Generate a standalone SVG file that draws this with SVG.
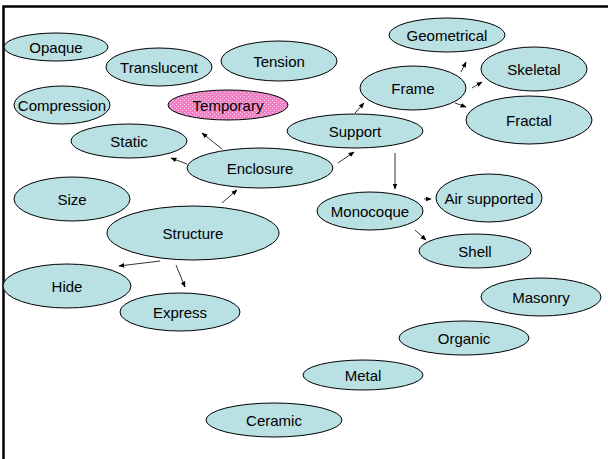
<svg xmlns="http://www.w3.org/2000/svg" width="608" height="459" viewBox="0 0 608 459">
<style>
.n ellipse{fill:#B9E0E3;stroke:#000;stroke-width:1}
.n text{font-family:"Liberation Sans",Arial,sans-serif;font-size:15px;fill:#000;text-anchor:middle;dominant-baseline:central}
.c line{stroke:#000;stroke-width:0.8;marker-end:url(#ah)}
</style>
<defs>
<marker id="ah" viewBox="0 0 10 10" refX="9" refY="5" markerWidth="6" markerHeight="6" markerUnits="userSpaceOnUse" orient="auto">
<path d="M0,1 L10,5 L0,9 Z" fill="#000"/>
</marker>
<pattern id="pk" width="4" height="4" patternUnits="userSpaceOnUse">
<rect width="4" height="4" fill="#F27FC6"/>
<rect x="0" y="0" width="1" height="1" fill="#FBD0EA"/>
<rect x="2" y="2" width="1" height="1" fill="#FBD0EA"/>
</pattern>
</defs>
<rect width="608" height="459" fill="#fff"/>
<path d="M3.5,459 L3.5,6.5 L608,6.5" fill="none" stroke="#000" stroke-width="2.5"/>
<g class="c">
<line x1="222" y1="149" x2="202" y2="133"/>
<line x1="187" y1="164" x2="171" y2="158"/>
<line x1="222" y1="203" x2="237" y2="190"/>
<line x1="338" y1="163" x2="354" y2="152"/>
<line x1="355" y1="113" x2="364" y2="103"/>
<line x1="461" y1="72" x2="466" y2="62"/>
<line x1="472" y1="88" x2="482" y2="82"/>
<line x1="455" y1="103" x2="466" y2="107"/>
<line x1="395" y1="153" x2="395" y2="189"/>
<line x1="424" y1="199" x2="431" y2="199"/>
<line x1="415" y1="230" x2="426" y2="240"/>
<line x1="160" y1="261" x2="119" y2="266"/>
<line x1="176" y1="265" x2="185" y2="287"/>
</g>
<g class="n" id="opaque"><ellipse cx="56" cy="47" rx="52" ry="14"/><text x="56" y="47">Opaque</text></g>
<g class="n" id="translucent"><ellipse cx="159" cy="67" rx="53" ry="19"/><text x="159" y="67">Translucent</text></g>
<g class="n" id="tension"><ellipse cx="279" cy="61" rx="58" ry="20"/><text x="279" y="61">Tension</text></g>
<g class="n" id="compression"><ellipse cx="62" cy="105" rx="48" ry="19"/><text x="62" y="105">Compression</text></g>
<g class="n" id="temporary"><ellipse cx="228" cy="105" rx="60" ry="15" style="fill:url(#pk)"/><text x="228" y="105">Temporary</text></g>
<g class="n" id="static"><ellipse cx="129" cy="141" rx="58" ry="17"/><text x="129" y="141">Static</text></g>
<g class="n" id="enclosure"><ellipse cx="260" cy="168" rx="73" ry="20"/><text x="260" y="168">Enclosure</text></g>
<g class="n" id="support"><ellipse cx="355" cy="131" rx="68" ry="17"/><text x="355" y="131">Support</text></g>
<g class="n" id="frame"><ellipse cx="413" cy="88" rx="53" ry="22"/><text x="413" y="88">Frame</text></g>
<g class="n" id="geometrical"><ellipse cx="447" cy="35" rx="58" ry="17"/><text x="447" y="35">Geometrical</text></g>
<g class="n" id="skeletal"><ellipse cx="534" cy="69" rx="53" ry="22"/><text x="534" y="69">Skeletal</text></g>
<g class="n" id="fractal"><ellipse cx="529" cy="120" rx="63" ry="24"/><text x="529" y="120">Fractal</text></g>
<g class="n" id="size"><ellipse cx="72" cy="199" rx="58" ry="22"/><text x="72" y="199">Size</text></g>
<g class="n" id="structure"><ellipse cx="193" cy="233" rx="86" ry="27"/><text x="193" y="233">Structure</text></g>
<g class="n" id="hide"><ellipse cx="67" cy="286" rx="64" ry="22"/><text x="67" y="286">Hide</text></g>
<g class="n" id="express"><ellipse cx="180" cy="312" rx="60" ry="19"/><text x="180" y="312">Express</text></g>
<g class="n" id="monocoque"><ellipse cx="370" cy="211" rx="53" ry="19"/><text x="370" y="211">Monocoque</text></g>
<g class="n" id="airsupported"><ellipse cx="489" cy="198" rx="53" ry="24"/><text x="489" y="198">Air supported</text></g>
<g class="n" id="shell"><ellipse cx="475" cy="251" rx="56" ry="17"/><text x="475" y="251">Shell</text></g>
<g class="n" id="masonry"><ellipse cx="541" cy="297" rx="60" ry="19"/><text x="541" y="297">Masonry</text></g>
<g class="n" id="organic"><ellipse cx="464" cy="338" rx="65" ry="17"/><text x="464" y="338">Organic</text></g>
<g class="n" id="metal"><ellipse cx="363" cy="375" rx="60" ry="15"/><text x="363" y="375">Metal</text></g>
<g class="n" id="ceramic"><ellipse cx="274" cy="420" rx="68" ry="17"/><text x="274" y="420">Ceramic</text></g>
</svg>
